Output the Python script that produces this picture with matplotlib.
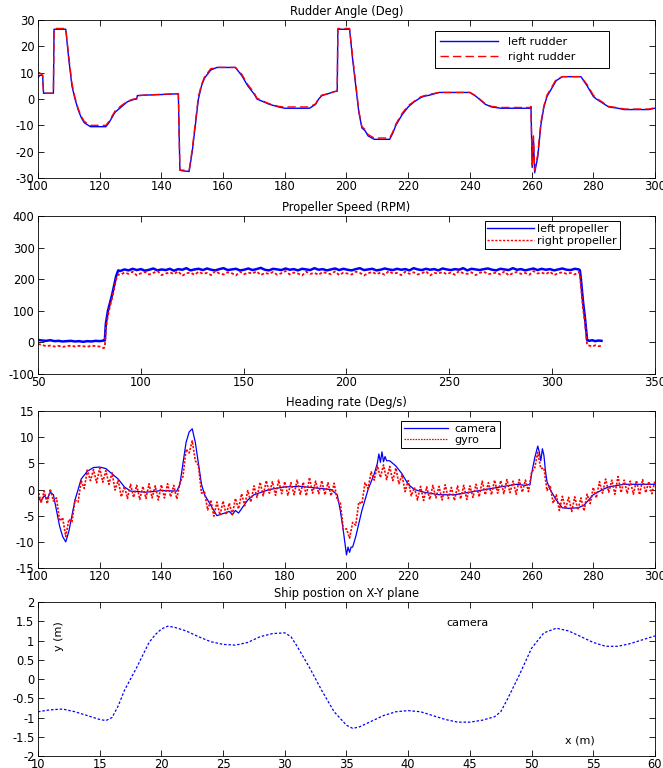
import numpy as np
import matplotlib
matplotlib.use("Agg")
import matplotlib.pyplot as plt

plt.rcParams['font.family'] = ['DejaVu Sans']
plt.rcParams['axes.unicode_minus'] = False

# ---------------- Rudder angle ----------------
rud_left_t = [100, 100.5, 101.5, 101.8, 105, 105.2, 109, 110, 111, 112, 113, 114, 115, 117, 122, 123, 125, 127,
              129, 131, 132, 132.2, 135, 140, 145.5, 146, 147, 149, 150, 151, 152, 153, 154, 156, 158, 164, 166,
              168, 170, 171, 173, 175, 178, 180, 188, 190, 191, 192, 194, 196, 197, 197.2, 201, 202, 203, 204,
              205, 206, 207, 209, 214, 215, 216, 218, 220, 222, 224, 225, 227, 230, 240, 242, 243, 245, 247, 250,
              259.5, 259.8, 260.2, 260.6, 261, 262, 263, 264, 265, 266, 268, 270, 276, 278, 280, 281, 283, 285,
              288, 290, 298, 300]
rud_left = [8, 9, 9, 2.2, 2.2, 26.5, 26.5, 15, 5, 0, -4, -7, -9, -10.5, -10.5, -9, -5, -3,
            -1, -0.2, 0, 1.3, 1.5, 1.7, 2, -27, -27.3, -27.5, -20, -10, 0, 5, 8, 11, 12, 12, 9,
            5, 2, 0, -1, -2, -3, -3.5, -3.5, -2, 0, 1.3, 2, 2.8, 3, 26.5, 26.5, 15, 5, -5,
            -11, -12, -14, -15.3, -15.3, -13, -10, -6, -3, -1, 0.5, 1, 1.5, 2.5, 2.5, 1, 0, -2, -3, -3.5,
            -3.5, -3, -26, -15, -28, -22, -10, -3, 1, 3, 7, 8.5, 8.5, 5, 1, 0, -1.5, -3,
            -3.5, -4, -4, -3.5]

rud_right_t = [100, 100.5, 101.5, 101.8, 105, 105.2, 109, 110, 111, 112, 113, 114, 115, 117, 122, 123, 125, 127,
               129, 131, 132, 132.2, 135, 140, 145.5, 146, 147, 149, 150, 151, 152, 153, 154, 156, 158, 164, 166,
               168, 170, 171, 173, 175, 178, 180, 188, 190, 191, 192, 194, 196, 197, 197.2, 201, 202, 203, 204,
               205, 206, 207, 209, 214, 215, 216, 218, 220, 222, 224, 225, 227, 230, 240, 242, 243, 245, 247, 250,
               259.5, 259.8, 260.2, 260.6, 261, 262, 263, 264, 265, 266, 268, 270, 276, 278, 280, 281, 283, 285,
               288, 290, 298, 300]
rud_right = [10, 10, 9, 2.2, 2.2, 26.8, 26.8, 16, 6, 0.5, -3.5, -6.5, -8.5, -10, -10, -8.5, -4.5, -2.5,
             -0.8, 0, 0.2, 1.3, 1.5, 1.8, 2, -27, -27, -27, -19, -9, 1, 5.5, 8.5, 11.5, 12, 12, 9.5,
             5.5, 2.5, 0.3, -0.8, -1.8, -2.8, -3, -3, -1.8, 0.3, 1.5, 2, 2.8, 3, 26.8, 26.8, 16, 6, -4.5,
             -10.5, -11.5, -13.5, -14.8, -14.8, -12.5, -9.5, -5.5, -2.5, -0.8, 0.8, 1.2, 1.8, 2.5, 2.5, 1.2, 0.2, -1.8, -2.8, -3.2,
             -3.2, -2.8, -25, -14, -27, -21, -9, -2.5, 1.5, 3.5, 7.5, 8.5, 8.5, 5.5, 1.5, 0.3, -1.2, -2.8,
             -3.3, -3.8, -3.8, -3.3]

# ---------------- Propeller speed ----------------
prop_left_pre = [8, 6, 5, 7, 4, 5, 3, 4, 5, 3, 4, 2, 4, 3, 5, 4, 6]
prop_left_ramp_t = [82.5, 83, 84, 85, 86, 87, 88, 89]
prop_left_ramp = [6, 60, 100, 125, 150, 180, 210, 228]
prop_left_plateau = [226, 231, 228, 233, 229, 232, 227, 230, 234, 228, 231, 229, 233, 227, 232, 230, 235, 228,
                     231, 233, 229, 234, 230, 228, 232, 235, 229, 231, 233, 228, 230, 234, 229, 232, 236, 230,
                     228, 233, 231, 229, 234, 230, 232, 228, 233, 231, 229, 235, 230, 232, 228, 231, 234, 229,
                     233, 230, 228, 232, 235, 229, 231, 233, 228, 230, 234, 231, 229, 233, 230, 232, 228, 235,
                     231, 229, 233, 230, 232, 228, 234, 231, 229, 232, 230, 235, 228, 233, 231, 229, 232, 234,
                     230, 228, 233, 231, 229, 235, 230, 232, 228, 231, 234, 229, 233, 230, 232, 228, 231, 234,
                     230, 229, 233, 231]
prop_left_drop_t = [313.5, 314, 315, 316, 317]
prop_left_drop = [228, 200, 130, 75, 8]
prop_left_post = [5, 7, 4, 6, 5]

prop_right_pre = [-5, -8, -12, -10, -13, -11, -14, -12, -10, -13, -11, -12, -14, -10, -12, -13, -18]
prop_right_ramp_t = [82.5, 83, 84, 85, 86, 87, 88, 89]
prop_right_ramp = [-15, 45, 85, 115, 140, 170, 200, 215]
prop_right_plateau = [214, 221, 217, 224, 212, 219, 223, 215, 220, 226, 213, 218, 222, 216, 225, 211, 219, 221,
                      214, 224, 217, 220, 213, 226, 218, 215, 222, 219, 212, 224, 216, 221, 218, 225, 213, 220,
                      217, 223, 214, 219, 226, 215, 221, 218, 212, 224, 217, 220, 214, 223, 219, 216, 225, 213,
                      221, 218, 215, 224, 220, 212, 219, 223, 216, 221, 214, 226, 218, 220, 213, 224, 217, 222,
                      215, 219, 225, 212, 220, 218, 223, 216, 221, 214, 226, 219, 217, 222, 213, 220, 224, 216,
                      218, 221, 215, 225, 212, 219, 223, 217, 220, 214, 226, 218, 221, 216, 224, 213, 219, 222,
                      217, 220, 215, 223]
prop_right_drop_t = [313.5, 314, 315, 316, 317]
prop_right_drop = [215, 180, 110, 60, -8]
prop_right_post = [-10, -13, -9, -12, -11]

# ---------------- Heading rate ----------------
cam_t = [100, 101, 102, 103, 104, 105, 106, 107, 108, 109, 110, 111, 112, 113, 114, 116, 118, 120, 122, 124,
         126, 128, 130, 135, 140, 145, 146, 147, 148, 149, 150, 151, 152, 153, 154, 156, 158, 160, 162, 163,
         164, 165, 168, 170, 175, 180, 185, 190, 195, 197, 198, 199, 200, 200.5, 201, 201.5, 202, 203, 205,
         207, 209, 210, 210.5, 211, 211.5, 212, 212.5, 213, 214, 216, 218, 220, 222, 225, 230, 235, 240, 245,
         250, 255, 258, 259.5, 260, 261, 262, 262.5, 263, 263.5, 264, 264.5, 265, 266, 268, 270, 272, 275,
         277, 280, 283, 285, 290, 295, 300]
cam = [-1.5, -2.2, -1.2, -1.8, -0.5, -1, -4, -7, -9, -10, -8, -5, -2, 0, 2, 3.5, 4.2, 4.3, 4, 3,
       2, 0.5, -0.3, -0.5, -0.2, -0.3, 1, 5, 9, 11, 11.6, 9, 5, 1, -1, -3, -5, -4.6, -4.2, -4.8,
       -4.0, -4.5, -2, -1, 0, 0.5, 0.6, 0.3, 0, -1, -4, -8, -12.5, -11, -12, -11, -11, -9, -4,
       0, 3, 5, 6.8, 5.2, 7.2, 5.3, 6.3, 5.5, 5.5, 4.5, 3, 1, 0, -0.5, -1, -1, -0.5, 0,
       0.5, 1, 0.8, 1, 3, 6, 8.3, 7.2, 5.5, 7.8, 6.5, 3.5, 1.5, 0, -2, -3.5, -3.6, -3.5,
       -3, -1, 0, 0.5, 1, 1, 1]

gyro_t = list(range(100, 301))
gyro = [0.0, -2.6, -0.3, -2.7, 0.1, -2.2, -1.6, -6.0, -5.4, -9.0,
        -5.7, -6.2, -2.0, -2.4, 1.7, 0.2, 3.7, 1.7, 3.8, 1.3,
        4.1, 1.4, 3.6, 1.0, 3.2, -0.1, 1.8, -1.4, 0.6, -1.7,
        1.0, -1.5, 0.8, -1.9, 0.6, -1.7, 1.1, -1.6, 0.7, -2.0,
        0.9, -1.6, 1.1, -1.4, 0.8, -1.8, 1.3, 2.5, 7.7, 7.0,
        9.3, 5.5, 4.6, -0.7, -0.5, -3.9, -2.0, -5.1, -2.4, -4.9,
        -2.2, -4.8, -2.6, -4.8, -1.7, -3.7, -0.8, -3.1, -0.2, -2.4,
        0.7, -1.5, 1.4, -1.2, 1.7, -0.7, 1.5, -1.1, 1.8, -0.8,
        1.5, -1.1, 1.3, -1.0, 1.8, -0.9, 1.4, -1.2, 2.3, -0.7,
        1.6, -0.8, 1.7, -1.0, 1.3, -1.2, 1.2, -2.0, -2.5, -7.7,
        -7.5, -9.3, -6.3, -6.8, -2.4, -2.7, 1.3, 0.2, 3.4, 1.8,
        4.6, 2.3, 4.7, 1.9, 4.4, 1.7, 4.1, 1.1, 2.8, -0.4,
        1.7, -1.2, 0.4, -2.0, 0.6, -2.1, 0.5, -1.9, 0.8, -1.6,
        0.6, -2.0, 0.9, -1.7, 0.4, -2.1, 0.7, -1.8, 0.8, -1.9,
        0.7, -1.5, 1.0, -1.4, 1.6, -1.0, 1.3, -1.0, 1.8, -0.7,
        1.7, -0.8, 1.9, -0.6, 1.6, -0.9, 1.9, -0.5, 1.8, -0.4,
        3.3, 4.1, 7.1, 4.0, 4.1, -0.2, 0.8, -2.6, -1.0, -4.0,
        -1.3, -3.7, -1.5, -4.2, -1.4, -3.9, -1.6, -4.1, -0.9, -2.7,
        0.4, -1.6, 1.5, -0.7, 2.0, -0.5, 1.8, -0.9, 2.5, -0.6,
        1.8, -0.7, 1.6, -0.9, 1.7, -1.0, 1.9, -0.6, 1.5, -0.8, 1.7]

# ---------------- Ship position ----------------
pos_x = [10, 11, 12, 13, 14, 15, 15.5, 16, 16.5, 17, 18, 19, 19.5, 20, 20.5, 21, 22, 23, 24, 25, 26, 27, 28,
         29, 30, 30.5, 31, 32, 33, 34, 35, 35.5, 36, 37, 38, 39, 40, 41, 42, 43, 44, 45, 46, 47, 47.5, 48,
         49, 50, 51, 52, 53, 54, 55, 56, 57, 58, 59, 60]
pos_y = [-0.85, -0.8, -0.78, -0.85, -0.95, -1.05, -1.08, -1.0, -0.7, -0.3, 0.3, 0.95, 1.15, 1.3, 1.37, 1.35,
         1.25, 1.1, 0.97, 0.9, 0.88, 0.95, 1.1, 1.18, 1.2, 1.1, 0.85, 0.3, -0.3, -0.85, -1.2, -1.28, -1.25,
         -1.1, -0.95, -0.85, -0.82, -0.85, -0.95, -1.05, -1.12, -1.12, -1.07, -0.98, -0.85, -0.55, 0.1, 0.8,
         1.2, 1.32, 1.25, 1.1, 0.95, 0.85, 0.85, 0.92, 1.02, 1.12]

FS = 8.3
LFS = 8
fig = plt.figure(figsize=(6.63, 7.68), dpi=100)
L, W = 0.0573, 0.9306
ax1 = fig.add_axes([L, 0.7682, W, 0.2057])
ax2 = fig.add_axes([L, 0.5130, W, 0.2057])
ax3 = fig.add_axes([L, 0.2604, W, 0.2044])
ax4 = fig.add_axes([L, 0.0156, W, 0.2005])

def style(ax, title):
    ax.set_title(title, fontsize=FS, pad=3.5)
    ax.tick_params(direction='in', top=True, right=True, labelsize=FS, length=4, width=0.6)
    ax.tick_params(axis='x', pad=1.5)
    ax.tick_params(axis='y', pad=2.5)
    for s in ax.spines.values():
        s.set_linewidth(0.6)

def legend(ax, anchor, hl, bp, ls, htp):
    lg = ax.legend(loc='upper left', bbox_to_anchor=anchor, fontsize=LFS, handlelength=hl,
                   fancybox=False, edgecolor='black', framealpha=1, borderpad=bp,
                   labelspacing=ls, handletextpad=htp, borderaxespad=0)
    lg.get_frame().set_linewidth(0.7)
    return lg

# Panel 1
ax1.plot(rud_left_t, rud_left, color='blue', lw=1.0, label='left rudder')
ax1.plot(rud_right_t, rud_right, color='red', lw=1.0, dashes=(6, 3), label='right rudder        ')
ax1.set_xlim(100, 300)
ax1.set_ylim(-30, 30)
ax1.set_xticks(np.arange(100, 301, 20))
ax1.set_yticks(np.arange(-30, 31, 10))
style(ax1, 'Rudder Angle (Deg)')
legend(ax1, (0.643, 0.93), 5.2, 0.5, 0.5, 0.9)

# Panel 2
pl_t = (list(np.linspace(50, 82, len(prop_left_pre))) + prop_left_ramp_t
        + list(np.linspace(90, 313, len(prop_left_plateau))) + prop_left_drop_t
        + list(np.linspace(318, 324, len(prop_left_post))))
pl_v = prop_left_pre + prop_left_ramp + prop_left_plateau + prop_left_drop + prop_left_post
pr_t = (list(np.linspace(50, 82, len(prop_right_pre))) + prop_right_ramp_t
        + list(np.linspace(90, 313, len(prop_right_plateau))) + prop_right_drop_t
        + list(np.linspace(318, 324, len(prop_right_post))))
pr_v = prop_right_pre + prop_right_ramp + prop_right_plateau + prop_right_drop + prop_right_post
ax2.plot(pl_t, pl_v, color='blue', lw=1.8, label='left propeller')
ax2.plot(pr_t, pr_v, color='red', lw=1.3, ls=(0, (1.6, 1.2)), label='right propeller')
ax2.set_xlim(50, 350)
ax2.set_ylim(-100, 400)
ax2.set_xticks(np.arange(50, 351, 50))
ax2.set_yticks(np.arange(-100, 401, 100))
style(ax2, 'Propeller Speed (RPM)')
lg = legend(ax2, (0.724, 0.968), 4.2, 0.25, 0.2, 0.3)
for h in lg.get_lines():
    h.set_linewidth(1.0)

# Panel 3
ax3.plot(cam_t, cam, color='blue', lw=0.9, label='camera')
ax3.plot(gyro_t, gyro, color='red', lw=1.2, ls=(0, (1.3, 0.9)), label='gyro')
ax3.set_xlim(100, 300)
ax3.set_ylim(-15, 15)
ax3.set_xticks(np.arange(100, 301, 20))
ax3.set_yticks(np.arange(-15, 16, 5))
style(ax3, 'Heading rate (Deg/s)')
lg = legend(ax3, (0.588, 0.937), 4.0, 0.25, 0.15, 0.6)
for h in lg.get_lines():
    h.set_linewidth(0.9)

# Panel 4
ax4.plot(pos_x, pos_y, color='blue', lw=0.9, ls=(0, (2, 1.5)))
ax4.set_xlim(10, 60)
ax4.set_ylim(-2, 2)
ax4.set_xticks(np.arange(10, 61, 5))
ax4.set_yticks(np.arange(-2, 2.01, 0.5))
ax4.set_yticklabels(['-2', '-1.5', '-1', '-0.5', '0', '0.5', '1', '1.5', '2'])
style(ax4, 'Ship postion on X-Y plane')
ax4.text(44.8, 1.45, 'camera', fontsize=LFS, ha='center', va='center')
ax4.text(11.7, 1.12, 'y (m)', fontsize=LFS, ha='center', va='center', rotation=90)
ax4.text(53.9, -1.59, 'x (m)', fontsize=LFS, ha='center', va='center')

fig.savefig('out.png', dpi=100)
